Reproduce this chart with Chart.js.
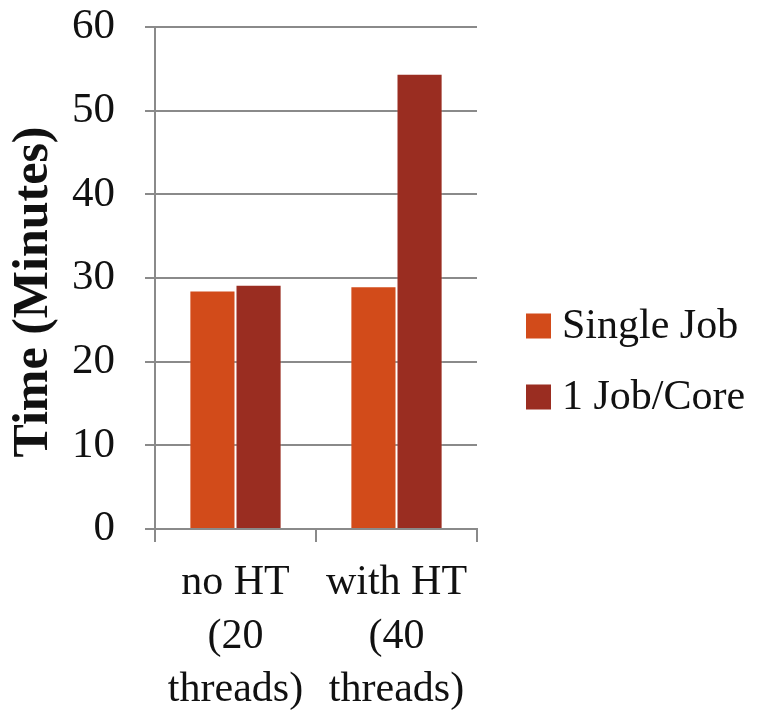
<!DOCTYPE html>
<html>
<head>
<meta charset="utf-8">
<script src="https://cdn.jsdelivr.net/npm/chart.js@4"></script>
<style>
  html, body { margin: 0; padding: 0; background: #fff; }
  #wrap { width: 765px; height: 714px; }
</style>
</head>
<body>
<div id="wrap"><canvas id="c" width="765" height="714"></canvas></div>
<script>
// Run time per configuration, in minutes
const categories = [["no HT", "(20", "threads)"], ["with HT", "(40", "threads)"]];
const seriesNames = ["Single Job", "1 Job/Core"];
const singleJob = [28.5, 29.0];
const jobPerCore = [29.2, 54.4];
const yTicks = [0, 10, 20, 30, 40, 50, 60];
const yTitle = "Time (Minutes)";

const SERIF = "'Liberation Serif', 'DejaVu Serif', serif";
const GRID = "#8a8a8a";
const colors = ["#d24b1a", "#9a2d21"];

// Rotated axis title and a column of legend swatches right of the plot
const sideText = {
  id: "sideText",
  afterDraw(chart) {
    const ctx = chart.ctx;
    ctx.save();
    ctx.fillStyle = "#111";
    ctx.font = "bold 50px " + SERIF;
    ctx.textAlign = "center";
    ctx.textBaseline = "middle";
    ctx.translate(34, 292);
    ctx.rotate(-Math.PI / 2);
    ctx.fillText(yTitle, 0, 0);
    ctx.restore();

    const x0 = 526, rows = [326, 397], box = 25;
    ctx.save();
    ctx.font = "42px " + SERIF;
    ctx.textBaseline = "middle";
    ctx.textAlign = "left";
    chart.data.datasets.forEach((ds, i) => {
      ctx.fillStyle = ds.backgroundColor;
      ctx.fillRect(x0, rows[i] - box / 2, box, box);
      ctx.fillStyle = "#111";
      ctx.fillText(ds.label, x0 + 36, rows[i] + 1);
    });
    ctx.restore();
  }
};

new Chart(document.getElementById("c"), {
  type: "bar",
  data: {
    labels: categories,
    datasets: [
      { label: seriesNames[0], data: singleJob, backgroundColor: colors[0],
        borderColor: "rgba(255,255,255,0.25)", borderWidth: 1,
        categoryPercentage: 0.573, barPercentage: 1.0 },
      { label: seriesNames[1], data: jobPerCore, backgroundColor: colors[1],
        borderColor: "rgba(255,255,255,0.25)", borderWidth: 1,
        categoryPercentage: 0.573, barPercentage: 1.0 }
    ]
  },
  options: {
    responsive: false,
    animation: false,
    devicePixelRatio: 1,
    layout: { padding: { top: 27, right: 288, left: 0, bottom: 0 } },
    plugins: {
      legend: { display: false },
      tooltip: { enabled: false }
    },
    scales: {
      x: {
        offset: true,
        afterFit(s) { s.height = 185; s.paddingLeft = 0; s.paddingRight = 0; },
        grid: {
          offset: true,
          drawOnChartArea: false,
          drawTicks: true,
          tickLength: 13,
          color: GRID,
          lineWidth: 2
        },
        border: { color: GRID, width: 2 },
        ticks: {
          color: "#111",
          padding: 14,
          maxRotation: 0,
          autoSkip: false,
          font: { family: SERIF, size: 42, lineHeight: 1.28 }
        }
      },
      y: {
        min: 0,
        max: 60,
        afterFit(s) { s.width = 155; s.paddingTop = 0; s.paddingBottom = 0; },
        afterBuildTicks(s) { s.ticks = yTicks.map(v => ({ value: v })); },
        grid: {
          color: GRID,
          lineWidth: 2,
          drawTicks: true,
          tickLength: 10
        },
        border: { color: GRID, width: 2 },
        ticks: {
          color: "#111",
          padding: 30,
          font: { family: SERIF, size: 43 }
        }
      }
    }
  },
  plugins: [sideText]
});
</script>
</body>
</html>
